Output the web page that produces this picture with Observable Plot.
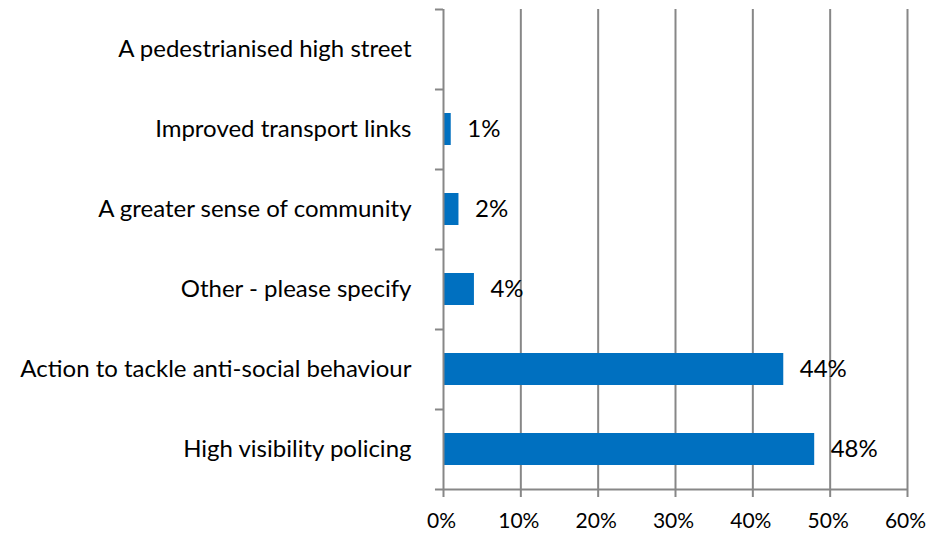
<!DOCTYPE html>
<html>
<head>
<meta charset="utf-8">
<script src="https://cdn.jsdelivr.net/npm/d3@7"></script>
<script src="https://cdn.jsdelivr.net/npm/@observablehq/plot@0.6"></script>
<style>
  html, body { margin: 0; padding: 0; background: #fff; }
  #chart { width: 926px; height: 536px; }
</style>
</head>
<body>
<div id="chart"></div>
<script>
const categories = [
  "A pedestrianised high street",
  "Improved transport links",
  "A greater sense of community",
  "Other - please specify",
  "Action to tackle anti-social behaviour",
  "High visibility policing"
];
const values = [0, 1, 2, 4, 44, 48];
const xTicks = [0, 10, 20, 30, 40, 50, 60];

const data = categories.map((c, i) => ({category: c, value: values[i]}));
const grey = "#878787";
const font = 24;

const chart = Plot.plot({
  width: 926,
  height: 536,
  marginLeft: 443,
  marginRight: 19,
  marginTop: 9,
  marginBottom: 47,
  style: {fontFamily: "Lato, sans-serif", background: "#fff", color: "#000"},
  x: {domain: [0, 60], label: null},
  y: {domain: categories, paddingInner: 0.6, paddingOuter: 0.3, label: null},
  marks: [
    Plot.ruleX(xTicks.filter(d => d > 0), {stroke: grey, strokeWidth: 2}),
    Plot.barX(data, {x: "value", y: "category", fill: "#0070C0"}),
    Plot.ruleX([0], {stroke: grey, strokeWidth: 2}),
    Plot.ruleY(categories, {y: d => d, dy: -40, x1: -1.04, x2: 0, stroke: grey, strokeWidth: 2}),
    Plot.ruleY([categories[categories.length - 1]], {y: d => d, dy: 40, x1: -1.04, x2: 60, stroke: grey, strokeWidth: 2}),
    Plot.axisX({ticks: xTicks, tickFormat: () => "", tickSize: 8, stroke: grey, strokeWidth: 2, label: null}),
    Plot.axisX({ticks: xTicks, tickFormat: d => d + "%", tickSize: 0, tickPadding: 24, fontSize: 21, fill: "#000", label: null, dx: -2}),
    Plot.axisY({tickSize: 0, tickPadding: 32, fontSize: font, fill: "#000", label: null}),
    Plot.text(data.filter(d => d.value > 0), {x: "value", y: "category", text: d => d.value + "%", dx: 16, textAnchor: "start", fontSize: font, fill: "#000"})
  ]
});
document.getElementById("chart").appendChild(chart);
</script>
</body>
</html>
